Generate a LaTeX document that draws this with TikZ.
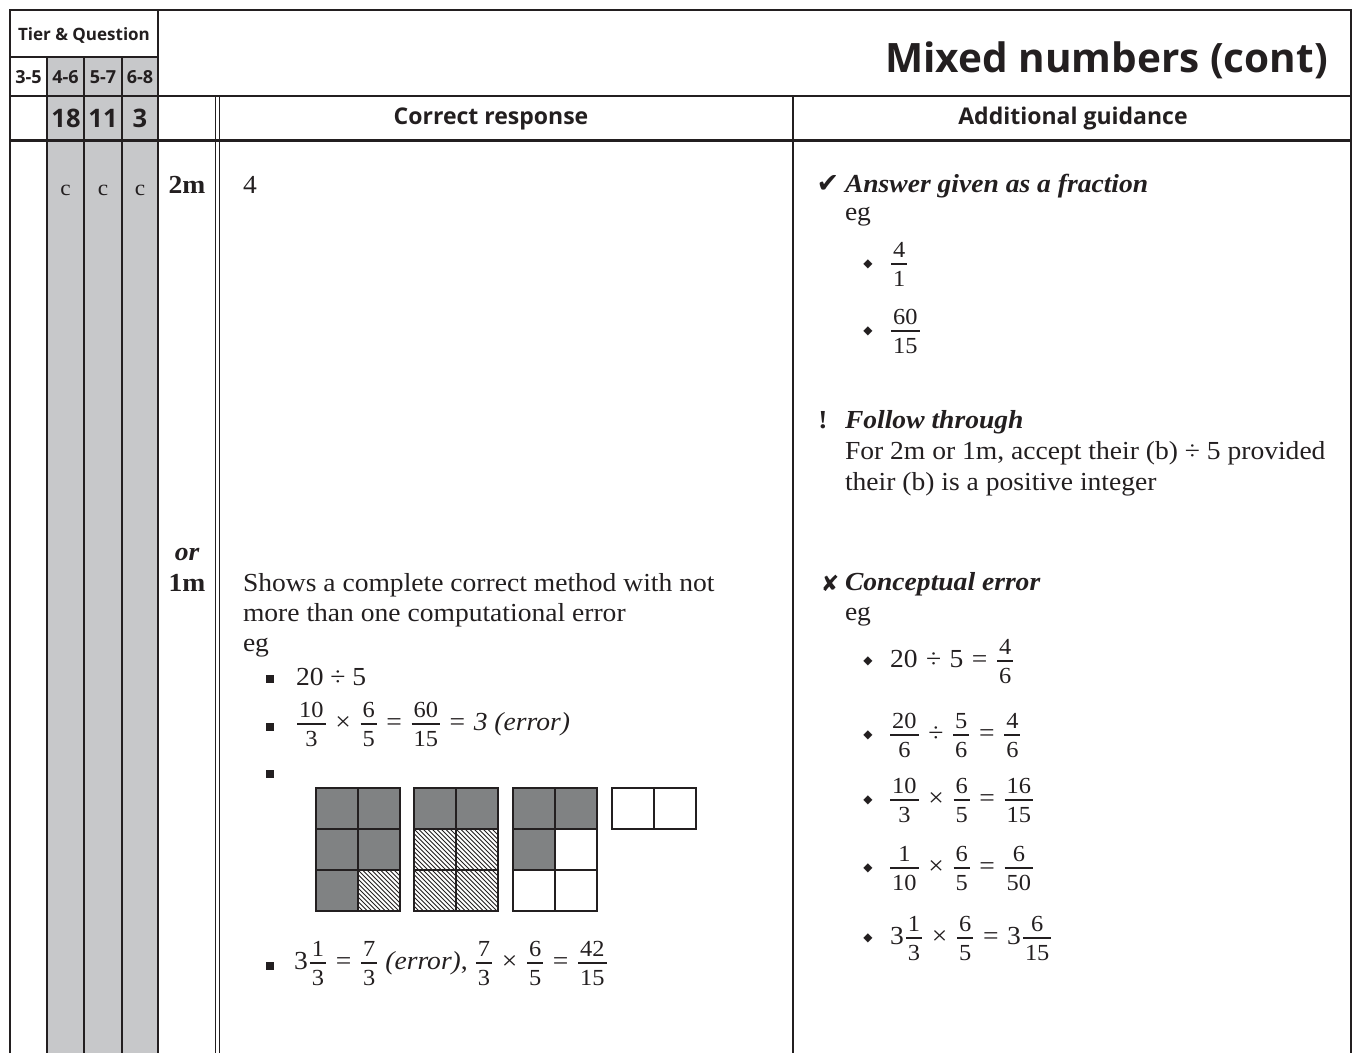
\documentclass[tikz,border=0pt]{standalone}
\usepackage{fontspec}
\usepackage{amsmath}
\setmainfont[FakeStretch=1.06]{Liberation Serif}
\newfontfamily\hsans{Open Sans}
\newfontfamily\dvs{DejaVu Sans}
\definecolor{colgrey}{HTML}{C7C8CA}
\definecolor{celldark}{HTML}{808283}
\definecolor{ink}{HTML}{231F20}
\newcommand{\frsz}{\fontsize{23}{23}\selectfont}
\newcommand{\fr}[2]{\ensuremath{\genfrac{}{}{1.2pt}{1}{\mbox{\frsz\rule[-5pt]{0pt}{26pt}\kern2pt#1\kern2pt}}{\mbox{\frsz\rule[-5pt]{0pt}{26pt}\kern2pt#2\kern2pt}}}}
\newcommand{\Op}[1]{\hspace{8.5pt}#1\hspace{8.5pt}}
\tikzset{
  thinl/.style={draw=ink,line width=1.5pt},
  thickl/.style={draw=ink,line width=3pt},
  outer/.style={draw=ink,line width=2.6pt},
  txt/.style={inner sep=0pt,outer sep=0pt,text=ink,font=\fontsize{26}{31}\selectfont},
  hdr/.style={inner sep=0pt,text=ink,font=\hsans\bfseries\fontsize{23}{26}\selectfont},
  tier/.style={inner sep=0pt,text=ink,font=\hsans\bfseries\fontsize{17}{20}\selectfont},
  band/.style={inner sep=0pt,text=ink,font=\hsans\bfseries\fontsize{18}{20}\selectfont},
  qnum/.style={inner sep=0pt,text=ink,font=\hsans\bfseries\fontsize{25.5}{28}\selectfont},
  marktxt/.style={inner sep=0pt,text=ink,font=\bfseries\fontsize{26}{31}\selectfont},
  sq/.style={fill=ink,minimum size=8.5pt,inner sep=0pt},
  dia/.style={inner sep=0pt,text=ink,font=\dvs\fontsize{12}{12}\selectfont},
  cellbox/.style={draw=ink,line width=2.2pt},
  hatchline/.style={draw=ink,line width=0.8pt}
}
\begin{document}
\begin{tikzpicture}[x=1pt,y=-1pt]
\useasboundingbox (0,0) rectangle (1359,1053);
\fill[white] (0,0) rectangle (1359,1053);
\fill[colgrey] (47,57) rectangle (158,1053);
% grid lines
\draw[thinl] (10,57) -- (158,57);
\draw[thinl] (10,96) -- (1351,96);
\draw[thickl] (10,140) -- (1351,140);
\draw[thinl] (47,57) -- (47,1053);
\draw[thinl] (84,57) -- (84,1053);
\draw[thinl] (122,57) -- (122,1053);
\draw[draw=ink,line width=1.2pt] (215.5,96) -- (215.5,1053);
\draw[draw=ink,line width=1.2pt] (219.5,96) -- (219.5,1053);
\draw[thinl] (793,96) -- (793,1053);
\draw[outer] (10,1053) -- (10,10) -- (1351,10) -- (1351,1053);
\draw[outer] (158,10) -- (158,1053);

% header texts
\node[tier] (tq) at (84,35) {Tier \& Question};
\node[band] (t35) at (28.5,77) {3-5};
\node[band] (t46) at (65.5,77) {4-6};
\node[band] (t57) at (103,77) {5-7};
\node[band] (t68) at (140,77) {6-8};
\node[qnum] (q18) at (66,118) {18};
\node[qnum] (q11) at (103,118) {11};
\node[qnum] (q3) at (140,118) {3};
\node[hdr] (hcr) at (491,119) {Correct response};
\node[hdr] (hag) at (1073,119) {Additional guidance};
\node[inner sep=0pt,text=ink,font=\hsans\bfseries\fontsize{40.5}{46}\selectfont,anchor=base east] (title) at (1328,72) {Mixed numbers (cont)};

% c marks
\node[txt,anchor=base,font=\fontsize{22}{26}\selectfont] (c1) at (65.5,195) {c};
\node[txt,anchor=base,font=\fontsize{22}{26}\selectfont] (c2) at (103,195) {c};
\node[txt,anchor=base,font=\fontsize{22}{26}\selectfont] (c3) at (140,195) {c};

% marks
\node[marktxt,anchor=base] (m2) at (187,193) {2m};
\node[marktxt,anchor=base,font=\bfseries\itshape\fontsize{26}{31}\selectfont] (mor) at (187,560) {or};
\node[marktxt,anchor=base] (m1) at (187,591) {1m};

% correct response
\node[txt,anchor=base west] (ans) at (243,193) {4};
\node[txt,anchor=base west] (s1) at (243,591) {Shows a complete correct method with not};
\node[txt,anchor=base west] (s2) at (243,621) {more than one computational error};
\node[txt,anchor=base west] (s3) at (243,651) {eg};
\node[sq] (b1) at (270,679) {};
\node[txt,anchor=base west] (e1) at (296,685) {20 ÷ 5};
\node[sq] (b2) at (270,727) {};
\node[txt,anchor=west] (e2) at (296,724) {\fr{10}{3}\Op{×}\fr{6}{5}\Op{=}\fr{60}{15}\Op{=}\textit{3 (error)}};
\node[sq] (b3) at (270,774) {};
\node[sq] (b4) at (270,966) {};
\node[txt,anchor=west] (e4) at (294,963) {3\kern1pt\fr{1}{3}\Op{=}\fr{7}{3} \textit{(error)}, \fr{7}{3}\Op{×}\fr{6}{5}\Op{=}\fr{42}{15}};

% grid drawing
\foreach \x/\y in {316/788,358/788,316/829,358/829,316/870,414/788,456/788,513/788,555/788,513/829}
  \fill[celldark] (\x,\y) rectangle ++(42,41);
\foreach \x/\y in {358/870,414/829,456/829,414/870,456/870}{
  \begin{scope}
    \clip (\x,\y) rectangle ++(42,41);
    \foreach \k in {-45,-40.5,...,45}
      \draw[hatchline] (\x+\k,\y) -- ++(41,41);
  \end{scope}
}
\foreach \x/\y in {316/788,358/788,316/829,358/829,316/870,358/870,
                   414/788,456/788,414/829,456/829,414/870,456/870,
                   513/788,555/788,513/829,555/829,513/870,555/870,
                   612/788,654/788}
  \draw[cellbox] (\x,\y) rectangle ++(42,41);

% additional guidance
\node[inner sep=0pt,text=ink,font=\dvs\fontsize{27}{28}\selectfont] (chk) at (828,184) {✔};
\node[txt,anchor=base west,font=\bfseries\itshape\fontsize{26}{31}\selectfont] (ag1) at (845,192) {Answer given as a fraction};
\node[txt,anchor=base west] (ag2) at (845,220) {eg};
\node[dia] (d1) at (868,264) {◆};
\node[txt,anchor=west] (f1) at (890,264) {\fr{4}{1}};
\node[dia] (d2) at (868,331) {◆};
\node[txt,anchor=west] (f2) at (890,331) {\fr{60}{15}};
\node[txt,anchor=base,font=\bfseries\fontsize{26}{31}\selectfont] (excl) at (823,428) {!};
\node[txt,anchor=base west,font=\bfseries\itshape\fontsize{26}{31}\selectfont] (ft) at (845,428) {Follow through};
\node[txt,anchor=base west] (ft2) at (845,459) {For 2m or 1m, accept their (b) ÷ 5 provided};
\node[txt,anchor=base west] (ft3) at (845,490) {their (b) is a positive integer};
\node[inner sep=0pt,text=ink,font=\dvs\fontsize{22}{24}\selectfont] (crs) at (830,583) {✘};
\node[txt,anchor=base west,font=\bfseries\itshape\fontsize{26}{31}\selectfont] (ce) at (845,590) {Conceptual error};
\node[txt,anchor=base west] (ce2) at (845,620) {eg};
\node[dia] (d3) at (868,661) {◆};
\node[txt,anchor=west] (g1) at (890,661) {20\Op{÷}5\Op{=}\fr{4}{6}};
\node[dia] (d4) at (868,735) {◆};
\node[txt,anchor=west] (g2) at (889,735) {\fr{20}{6}\Op{÷}\fr{5}{6}\Op{=}\fr{4}{6}};
\node[dia] (d5) at (868,800) {◆};
\node[txt,anchor=west] (g3) at (889,800) {\fr{10}{3}\Op{×}\fr{6}{5}\Op{=}\fr{16}{15}};
\node[dia] (d6) at (868,868) {◆};
\node[txt,anchor=west] (g4) at (889,868) {\fr{1}{10}\Op{×}\fr{6}{5}\Op{=}\fr{6}{50}};
\node[dia] (d7) at (868,938) {◆};
\node[txt,anchor=west] (g5) at (890,938) {3\kern1pt\fr{1}{3}\Op{×}\fr{6}{5}\Op{=}3\kern1pt\fr{6}{15}};
\end{tikzpicture}
\end{document}
